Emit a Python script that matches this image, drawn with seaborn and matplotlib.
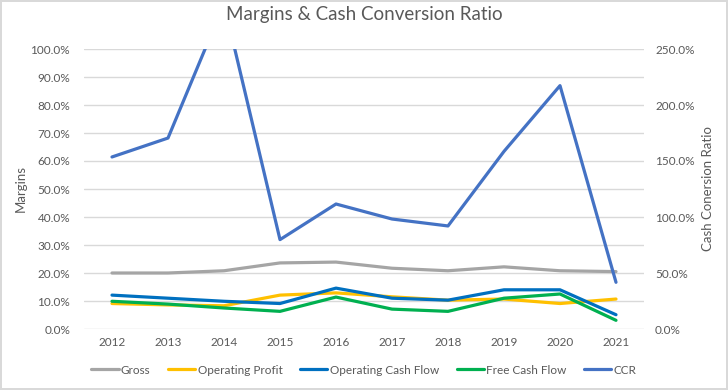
import pandas as pd
import numpy as np
import seaborn as sns
import matplotlib.pyplot as plt
from matplotlib.ticker import PercentFormatter
from matplotlib.lines import Line2D

# Data
years = [2012, 2013, 2014, 2015, 2016, 2017, 2018, 2019, 2020, 2021]
gross = [20.0, 20.0, 20.8, 23.6, 23.9, 21.7, 20.8, 22.2, 20.8, 20.5]
operating_profit = [9.1, 8.6, 8.3, 12.1, 12.9, 11.5, 10.3, 10.7, 9.1, 10.7]
operating_cash_flow = [12.1, 11.0, 9.9, 9.1, 14.6, 11.0, 10.3, 14.0, 14.0, 5.1]
free_cash_flow = [9.9, 8.9, 7.5, 6.3, 11.4, 7.1, 6.3, 11.0, 12.5, 3.1]
ccr = [153.6, 170.5, 290.5, 79.8, 111.6, 98.2, 92.0, 158.6, 217.3, 41.7]

series_names = ['Gross', 'Operating Profit', 'Operating Cash Flow', 'Free Cash Flow']
colors = {'Gross': '#A5A5A5', 'Operating Profit': '#FFC000',
          'Operating Cash Flow': '#0070C0', 'Free Cash Flow': '#00B050'}
ccr_color = '#4472C4'

df = pd.DataFrame({'Year': years, 'Gross': gross, 'Operating Profit': operating_profit,
                   'Operating Cash Flow': operating_cash_flow, 'Free Cash Flow': free_cash_flow})
df_long = df.melt(id_vars='Year', var_name='Series', value_name='Margin')
df_ccr = pd.DataFrame({'Year': years, 'CCR': ccr})

sns.set_style('white')
plt.rcParams['font.family'] = ['Lato', 'DejaVu Sans']
text_col = '#595959'

fig = plt.figure(figsize=(7.28, 3.9), dpi=100)
fig.patch.set_edgecolor('#D9D9D9')
fig.patch.set_linewidth(1.5)
ax = fig.add_axes([84 / 728, 1 - 329 / 390, 560 / 728, 280 / 390])
ax2 = ax.twinx()

sns.lineplot(data=df_long, x='Year', y='Margin', hue='Series', hue_order=series_names,
             palette=colors, linewidth=2.3, ax=ax, legend=False)
sns.lineplot(data=df_ccr, x='Year', y='CCR', color=ccr_color, linewidth=2.3, ax=ax2, legend=False)

ax.set_ylim(0, 100)
ax.set_yticks(np.arange(0, 101, 10))
ax.yaxis.set_major_formatter(PercentFormatter(decimals=1))
ax2.set_ylim(0, 250)
ax2.set_yticks(np.arange(0, 251, 50))
ax2.yaxis.set_major_formatter(PercentFormatter(decimals=1))
ax.set_xlim(2011.5, 2021.5)
ax.set_xticks(years)
ax.set_xticklabels([str(y) for y in years])

ax.grid(axis='y', color='#D9D9D9', linewidth=1)
ax.set_axisbelow(True)
for a in (ax, ax2):
    for s in a.spines.values():
        s.set_visible(False)
    a.tick_params(length=0, labelsize=8.5, colors=text_col)
ax.tick_params(axis='y', pad=10)
ax2.tick_params(axis='y', pad=8)
ax.tick_params(axis='x', pad=6)

ax.set_xlabel('')
ax.set_ylabel('Margins', fontsize=9.5, color=text_col, labelpad=3)
ax2.set_ylabel('Cash Conersion Ratio', fontsize=9.5, color=text_col, labelpad=5)

fig.suptitle('Margins & Cash Conversion Ratio', fontsize=13.5, color=text_col, y=0.985)

handles = [Line2D([], [], color=colors[n], linewidth=2.3) for n in series_names]
handles.append(Line2D([], [], color=ccr_color, linewidth=2.3))
labels = series_names + ['CCR']
fig.legend(handles, labels, loc='center', bbox_to_anchor=(0.5, 0.051), ncol=5, frameon=False,
           fontsize=8.5, labelcolor=text_col, handlelength=2.3, handletextpad=0.2, columnspacing=1.5)

plt.savefig('out.png', dpi=100)
